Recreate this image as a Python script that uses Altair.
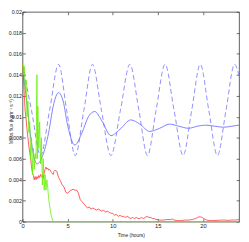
import altair as alt
import pandas as pd

# ---------------- data ----------------
x_ticks = [0, 5, 10, 15, 20]
y_ticks = [0, 0.002, 0.004, 0.006, 0.008, 0.01, 0.012, 0.014, 0.016, 0.018, 0.02]

dash_t = [0, 1.0, 2.0, 3.0, 4.0, 4.9, 5.85, 6.8, 7.75, 8.75, 9.8, 10.85, 11.9,
          12.9, 13.85, 14.8, 15.8, 16.8, 17.8, 18.75, 19.7, 20.65, 21.6, 22.55,
          23.5, 24.0]
dash_v = [0.0150, 0.0106, 0.0063, 0.0106, 0.0150, 0.0106, 0.0063, 0.0106, 0.0150,
          0.0106, 0.0063, 0.0106, 0.0150, 0.0106, 0.0063, 0.0106, 0.0150, 0.0106,
          0.0063, 0.0106, 0.0150, 0.0106, 0.0063, 0.0106, 0.0150, 0.0139]

solid_t = [0, 0.5, 1.0, 1.6, 2.2, 2.9, 3.4, 4.0, 4.5, 5.0, 5.8, 6.6, 7.3, 8.0,
           8.8, 9.8, 10.8, 12.0, 13.0, 14.1, 15.2, 16.3, 17.3, 18.4, 19.4, 20.3,
           21.3, 22.3, 23.2, 24.0]
solid_v = [0.0148, 0.0112, 0.0075, 0.0055, 0.0062, 0.0085, 0.0110, 0.0123, 0.0115,
           0.0092, 0.0073, 0.0085, 0.0100, 0.0105, 0.0096, 0.0082, 0.0088, 0.0097,
           0.0093, 0.0086, 0.0089, 0.0093, 0.0091, 0.0089, 0.0091, 0.0092, 0.0091,
           0.0090, 0.0091, 0.0092]

red_t = [0, 0.1, 0.2, 0.3, 0.4, 0.5, 0.6, 0.7, 0.8, 0.9, 1.0, 1.1, 1.2, 1.3, 1.4,
         1.5, 1.6, 1.7, 1.8, 1.9, 2.0, 2.1, 2.2, 2.3, 2.4, 2.5, 2.6, 2.7, 2.8, 2.9,
         3.0, 3.2, 3.4, 3.5, 3.6, 3.8, 4.0, 4.2, 4.4, 4.6, 4.8, 5.0, 5.2, 5.4, 5.6,
         5.8, 6.0, 6.2, 6.4, 6.6, 6.8, 7.0, 7.2, 7.4, 7.6, 7.8, 8.0, 8.2, 8.4, 8.6,
         8.8, 9.0, 9.2, 9.4, 9.6, 9.8, 10.0, 10.2, 10.4, 10.6, 10.8, 11.0, 11.2,
         11.4, 11.6, 11.8, 12.0, 12.2, 12.4, 12.6, 12.8, 13.0, 13.2, 13.4, 13.6,
         13.8, 14.0, 14.2, 14.4, 14.6, 14.8, 15.0, 15.2, 15.6, 16.0, 16.4, 16.6,
         16.8, 17.2, 17.6, 18.0, 18.4, 18.8, 19.2, 19.5, 19.8, 20.1, 20.4, 20.8,
         21.2, 21.6, 22.0, 22.4, 22.8, 23.2, 23.6, 24.0]
red_v = [0.0150, 0.0138, 0.0120, 0.0105, 0.0098, 0.0088, 0.0080, 0.0072, 0.0066,
         0.0060, 0.0052, 0.0047, 0.0044, 0.0040, 0.0043, 0.0040, 0.0043, 0.0041,
         0.0044, 0.0042, 0.0045, 0.0043, 0.0044, 0.0041, 0.0046, 0.0050, 0.0052,
         0.0050, 0.0051, 0.0049, 0.0050, 0.0047, 0.0045, 0.0048, 0.0049, 0.0048,
         0.0042, 0.0039, 0.0035, 0.0033, 0.0028, 0.0027, 0.0029, 0.0030, 0.0031,
         0.0030, 0.0030, 0.0027, 0.0021, 0.0019, 0.0017, 0.0015, 0.0013, 0.0014,
         0.0012, 0.0013, 0.0012, 0.0011, 0.0012, 0.0011, 0.0010, 0.0011, 0.0009,
         0.0010, 0.0009, 0.0008, 0.0008, 0.0006, 0.0007, 0.0005, 0.0006, 0.0005,
         0.0005, 0.0004, 0.0005, 0.0004, 0.0003, 0.0004, 0.0003, 0.0004, 0.0003,
         0.0003, 0.0004, 0.0003, 0.0004, 0.0005, 0.0004, 0.0004, 0.0003, 0.0003,
         0.0002, 0.0002, 0.00015, 0.00015, 0.0002, 0.0002, 0.00025, 0.00015,
         0.0001, 0.0001, 0.00015, 0.00015, 0.0002, 0.0003, 0.00045, 0.00045,
         0.0003, 0.00015, 0.0001, 0.0001, 0.00012, 0.00015, 0.00015, 0.00012,
         0.00015, 0.00015, 0.0002]

green_t = [0, 0.1, 0.2, 0.3, 0.4, 0.5, 0.6, 0.7, 0.8, 0.9, 1.0, 1.1, 1.2, 1.3,
           1.4, 1.5, 1.6, 1.65, 1.7, 1.8, 1.9, 2.0, 2.1, 2.2, 2.3, 2.4, 2.5, 2.6,
           2.7, 2.8, 2.9, 3.0, 3.1, 3.2, 3.4, 24.0]
green_v = [0.0150, 0.0140, 0.0148, 0.0125, 0.0135, 0.0100, 0.0115, 0.0085, 0.0095,
           0.0060, 0.0080, 0.0045, 0.0070, 0.0050, 0.0065, 0.0060, 0.0140, 0.0060,
           0.0110, 0.0070, 0.0095, 0.0055, 0.0080, 0.0035, 0.0060, 0.0030, 0.0045,
           0.0030, 0.0040, 0.0032, 0.0022, 0.0015, 0.0010, 0.0005, 0.0, 0.0]

# ---------------- chart ----------------
FONT = "Liberation Sans"
W, H = 224, 217
TICK = dict(grid=True, gridDash=[3, 1000], gridColor="#333333", gridOpacity=1,
            gridWidth=0.7, ticks=False, tickSize=0, domain=False)

xscale = alt.Scale(domain=[0, 24], nice=False, zero=False)
yscale = alt.Scale(domain=[0, 0.02], nice=False, zero=False)

x_bottom = alt.Axis(orient="bottom", values=x_ticks, title="Time (hours)",
                    labelFont=FONT, labelFontSize=6, labelColor="#222222",
                    labelPadding=1.5, labelFlush=False, labelOverlap=False,
                    titleFont=FONT, titleFontSize=5, titleFontWeight="normal",
                    titleColor="#222222", titleX=W / 2, titleY=13,
                    titleBaseline="middle", titleAlign="center", **TICK)
y_left = alt.Axis(orient="left", values=y_ticks, format="~g",
                  title="Mass flux (kgm\u207b\u00b9 s\u207b\u00b2)",
                  labelFont=FONT, labelFontSize=5.5, labelColor="#222222",
                  labelPadding=1, labelFlush=False, labelOverlap=False,
                  titleFont=FONT, titleFontSize=5, titleFontWeight="normal",
                  titleColor="#222222", titleX=-12, titleY=113, titleAngle=270,
                  titleBaseline="middle", titleAlign="center", **TICK)
x_top = alt.Axis(orient="top", values=x_ticks, labels=False, title=None, **TICK)
y_right = alt.Axis(orient="right", values=y_ticks, labels=False, title=None, **TICK)


def frame(t, v):
    return pd.DataFrame({"t": t, "v": v})


dashed = alt.Chart(frame(dash_t, dash_v)).mark_line(
    color="#8080ff", strokeWidth=0.9, strokeDash=[5, 3], interpolate="monotone"
).encode(x=alt.X("t:Q", scale=xscale, axis=x_bottom),
         y=alt.Y("v:Q", scale=yscale, axis=y_left))

solid = alt.Chart(frame(solid_t, solid_v)).mark_line(
    color="#7070ff", strokeWidth=0.9, interpolate="monotone"
).encode(x=alt.X("t:Q", scale=xscale, axis=x_top),
         y=alt.Y("v:Q", scale=yscale, axis=y_right))

red = alt.Chart(frame(red_t, red_v)).mark_line(
    color="#ff3333", strokeWidth=0.8
).encode(x=alt.X("t:Q", scale=xscale, axis=None),
         y=alt.Y("v:Q", scale=yscale, axis=None))

green = alt.Chart(frame(green_t, green_v)).mark_line(
    color="#66ee00", strokeWidth=0.8
).encode(x=alt.X("t:Q", scale=xscale, axis=None),
         y=alt.Y("v:Q", scale=yscale, axis=None))

chart = alt.layer(dashed, solid, red, green).properties(
    width=W, height=H,
    autosize=alt.AutoSizeParams(type="none"),
    padding={"left": 15, "top": 0, "right": 2, "bottom": 15},
    background="white",
).configure_view(stroke="#333333", strokeWidth=0.8)

chart.save("out.html", embed_options={"renderer": "svg", "actions": False})
